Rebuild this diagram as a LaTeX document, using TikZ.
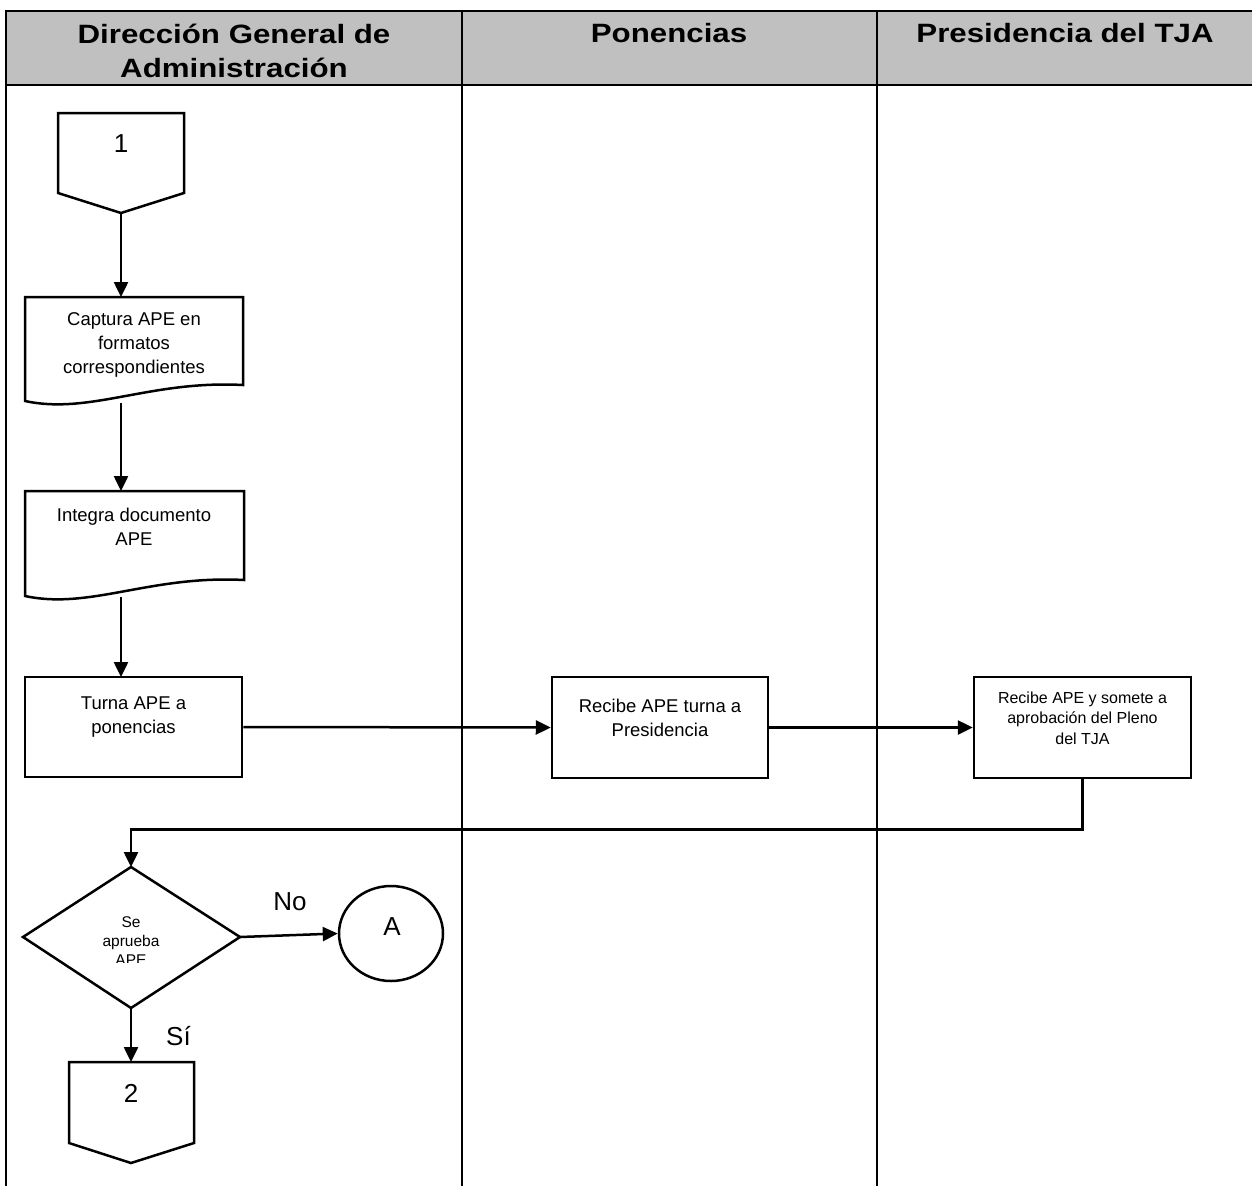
\documentclass[tikz,border=0pt]{standalone}
\usepackage{fontspec}
\setmainfont{Liberation Sans}
\usetikzlibrary{arrows.meta,shapes.geometric}
\definecolor{hdrgray}{RGB}{192,192,192}

\begin{document}
\begin{tikzpicture}[x=1pt,y=-1pt,
  grid/.style={line width=2.9pt},
  outline/.style={line width=2.5pt, line join=miter},
  flow/.style={line width=2.5pt, -{Triangle[length=15pt,width=14pt]}},
  hdrtext/.style={font=\fontsize{26.5}{30}\selectfont\bfseries, anchor=base, inner sep=0pt},
  body/.style={font=\fontsize{18.5}{24}\selectfont, align=center, anchor=north, inner sep=0pt},
  small/.style={font=\fontsize{16}{20.5}\selectfont, align=center, anchor=north, inner sep=0pt},
  tiny/.style={font=\fontsize{15.5}{19}\selectfont, align=center, anchor=north, inner sep=0pt},
  big/.style={font=\fontsize{26}{30}\selectfont, anchor=base, inner sep=0pt},
  box/.style={draw, outline, rectangle, inner sep=0pt},
]
\useasboundingbox (0,0) rectangle (1252,1186);

% swimlane header and lane borders
\fill[hdrgray] (6,11) rectangle (1252,85);
\draw[grid] (4.6,11) -- (1252,11);
\draw[grid] (6,85) -- (1252,85);
\draw[grid] (6,11) -- (6,1186);
\draw[grid] (462,11) -- (462,1186);
\draw[grid] (877,11) -- (877,1186);

\node[hdrtext] (h1a) at (234,43) {\scalebox{1.18}[1]{Dirección General de}};
\node[hdrtext] (h1b) at (234,77) {\scalebox{1.18}[1]{Administración}};
\node[hdrtext] (h2) at (669,42) {\scalebox{1.18}[1]{Ponencias}};
\node[hdrtext] (h3) at (1065,42) {\scalebox{1.18}[1]{Presidencia del TJA}};

% off-page connector 1
\draw[outline] (58,113) -- (184,113) -- (184,193) -- (121,213) -- (58,193) -- cycle;
\coordinate (c1bot) at (121,213);
\node[big] (c1txt) at (121,152) {1};

% document: Captura APE
\draw[outline] (25,297) -- (243,297) -- (243,385)
  .. controls (150,380) and (90,415) .. (25,401) -- cycle;
\coordinate (capTop) at (121,297);
\coordinate (capBot) at (121,403);
\node[body] (capTxt) at (134,312) {Captura APE en\\formatos\\correspondientes};

% document: Integra documento APE
\draw[outline] (25,491) -- (244,491) -- (244,580)
  .. controls (150,575) and (90,610) .. (25,596) -- cycle;
\coordinate (intTop) at (121,491);
\coordinate (intBot) at (121,597);
\node[body] (intTxt) at (134,507.5) {Integra documento\\APE};

% process boxes
\node[box, minimum width=217pt, minimum height=100pt] (turna) at (133.5,727) {};
\coordinate (turnaIn) at (121,677);
\node[body] (turnaTxt) at (133.5,696.5) {Turna APE a\\ponencias};

\node[box, minimum width=216pt, minimum height=101pt] (recibe) at (660,727.5) {};
\node[body] (recibeTxt) at (660,698.5) {Recibe APE turna a\\Presidencia};

\node[box, minimum width=217pt, minimum height=101pt] (pres) at (1082.5,727.5) {};
\node[small] (presTxt) at (1082.5,691.5) {Recibe APE y somete a\\aprobación del Pleno\\del TJA};

% decision
\coordinate (dtop) at (131,867);
\coordinate (dleft) at (23,937);
\coordinate (dright) at (240,937);
\coordinate (dbot) at (131,1008);
\draw[outline] (dtop) -- (dright) -- (dbot) -- (dleft) -- cycle;
\begin{scope}
  \clip (60,900) rectangle (200,962);
  \node[tiny] (decTxt) at (131,916.5) {Se\\aprueba\\APE};
\end{scope}

% connector A
\node[draw, outline, ellipse, minimum width=104pt, minimum height=95pt, inner sep=0pt] (circA) at (391,933.5) {};
\node[big] (aTxt) at (392,935) {A};

% off-page connector 2
\draw[outline] (69,1062) -- (194,1062) -- (194,1143) -- (131,1163) -- (69,1143) -- cycle;
\coordinate (c2top) at (131,1062);
\node[big] (c2txt) at (131,1102) {2};

% branch labels
\node[big] (noLbl) at (290,910) {No};
\node[big] (siLbl) at (178.5,1045) {Sí};

% connectors
\draw[flow] (c1bot) -- (capTop);
\draw[flow] (capBot) -- (intTop);
\draw[flow] (intBot) -- (turnaIn);
\draw[flow] (turna.east) -- (recibe.west);
\draw[flow] (recibe.east) -- (pres.west);
\draw[flow] (pres.south) -- ++(0,50) -| (dtop);
\draw[flow] (dright) -- (circA.west);
\draw[flow] (dbot) -- (c2top);
\end{tikzpicture}
\end{document}
